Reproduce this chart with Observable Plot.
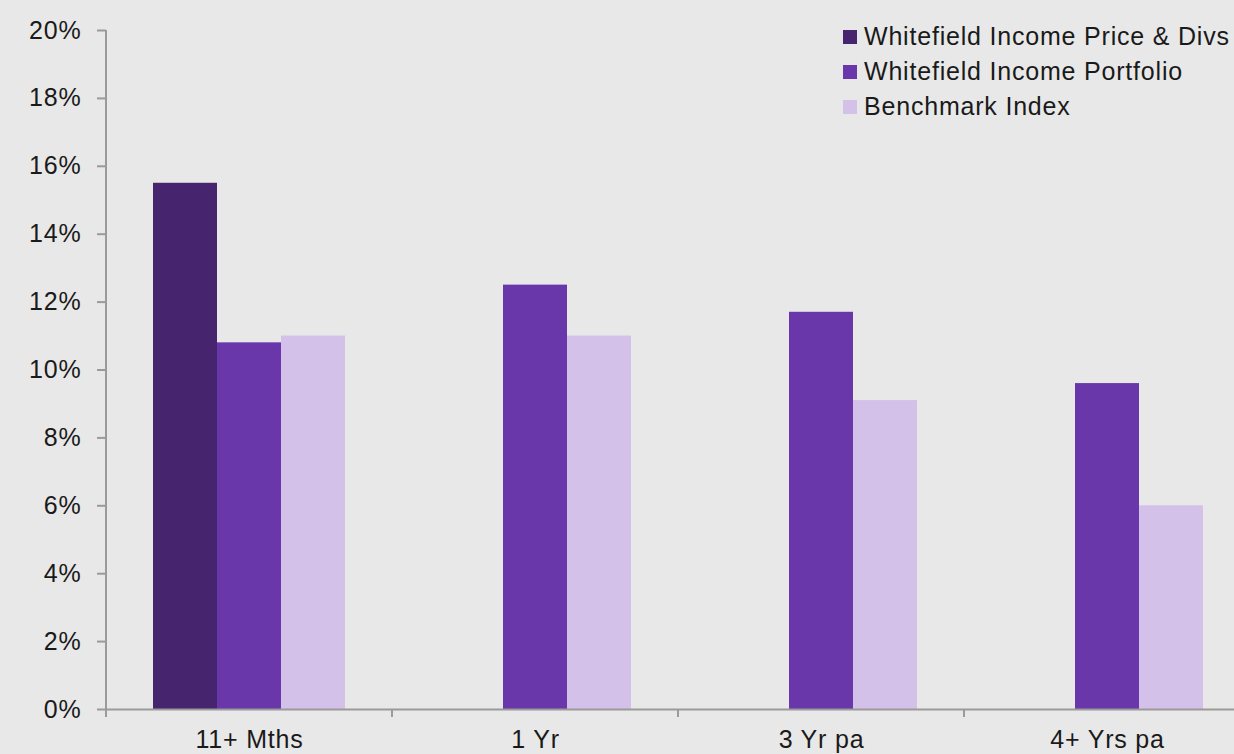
<!DOCTYPE html>
<html><head><meta charset="utf-8">
<script src="https://cdn.jsdelivr.net/npm/d3@7"></script>
<script src="https://cdn.jsdelivr.net/npm/@observablehq/plot@0.6"></script>
<style>
html,body{margin:0;padding:0;background:#e8e8e8;}
#wrap{position:relative;width:1234px;height:754px;overflow:hidden;font-family:"Liberation Sans",Arial,sans-serif;}
#legend{position:absolute;left:843px;top:19px;font-size:25px;color:#1a1a1a;letter-spacing:0.8px;}
.item{display:flex;align-items:center;height:35px;white-space:nowrap;}
.sw{width:14px;height:14px;margin-right:7px;flex:none;}
svg{display:block;}
svg text{letter-spacing:0.8px;}
</style></head><body><div id="wrap"><div id="legend"></div></div>
<script>
const categories = ["11+ Mths", "1 Yr", "3 Yr pa", "4+ Yrs pa"];
const series = ["Whitefield Income Price & Divs", "Whitefield Income Portfolio", "Benchmark Index"];
const colors = ["#46246e", "#6a37ab", "#d4c1ea"];
const priceDivs = [15.5, null, null, null];
const portfolio = [10.8, 12.5, 11.7, 9.6];
const benchmark = [11.0, 11.0, 9.1, 6.0];
const yTicks = [0, 2, 4, 6, 8, 10, 12, 14, 16, 18, 20];

const seriesValues = [priceDivs, portfolio, benchmark];
const data = [];
categories.forEach((c, i) => {
  series.forEach((s, j) => {
    const v = seriesValues[j][i];
    if (v != null) data.push({category: c, series: s, value: v});
  });
});

const W = 1234, H = 754, mL = 106, mR = -16, mT = 30, mB = 45;
const axisGray = "#9a9a9a";

const chart = Plot.plot({
  width: W, height: H,
  marginLeft: mL, marginRight: mR, marginTop: mT, marginBottom: mB,
  style: {background: "transparent", fontSize: "25px", fontFamily: '"Liberation Sans", Arial, sans-serif', color: "#1a1a1a", overflow: "visible"},
  fx: {domain: categories, padding: 0, axis: "bottom", label: null, tickSize: 0, tickPadding: 21},
  x: {domain: series, paddingInner: 0, paddingOuter: 0.734, axis: null},
  y: {domain: [0, 20], ticks: yTicks, tickFormat: d => d + "%", tickSize: 9, tickPadding: 16, label: null},
  color: {domain: series, range: colors},
  marks: [
    Plot.barY(data, {fx: "category", x: "series", y: "value", fill: "series"}),
    Plot.ruleY([0], {stroke: axisGray, strokeWidth: 2})
  ]
});

const svg = d3.select(chart);
svg.selectAll('g[aria-label="y-axis tick"] path').attr("stroke", axisGray).attr("stroke-width", 2);
const fx = chart.scale("fx"), y = chart.scale("y");
const y0 = y.apply(0), yTop = y.apply(20);
const g = svg.append("g").attr("stroke", axisGray).attr("stroke-width", 2);
g.append("line").attr("x1", mL).attr("x2", mL).attr("y1", yTop).attr("y2", y0 + 8);
categories.forEach(c => {
  const x = fx.apply(c);
  g.append("line").attr("x1", x).attr("x2", x).attr("y1", y0).attr("y2", y0 + 8);
});

const wrap = document.getElementById("wrap");
wrap.insertBefore(chart, wrap.firstChild);

const legend = document.getElementById("legend");
series.forEach((s, j) => {
  const it = document.createElement("div");
  it.className = "item";
  it.innerHTML = `<span class="sw" style="background:${colors[j]}"></span><span></span>`;
  it.lastChild.textContent = s;
  legend.appendChild(it);
});
</script></body></html>
